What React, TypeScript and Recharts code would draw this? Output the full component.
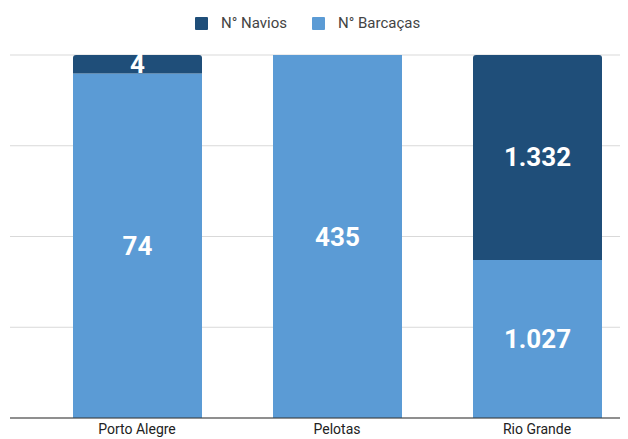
import React from 'react';
import { BarChart, Bar, XAxis, YAxis, CartesianGrid, Legend, LabelList } from 'recharts';

const categories = ['Porto Alegre', 'Pelotas', 'Rio Grande'];
const navios = [4, 0, 1332];
const barcacas = [74, 435, 1027];
const seriesNames = ['N° Navios', 'N° Barcaças'];
const seriesColors = ['#1f4e79', '#5b9bd5'];

const data = categories.map((c, i) => ({ name: c, navios: navios[i], barcacas: barcacas[i] }));

const fmt = (v: number) => (v ? v.toLocaleString('de-DE') : '');

const renderLabel = (props: any) => {
  const { x, y, width, height, value } = props;
  if (!value) return null;
  return (
    <text
      x={x + width / 2}
      y={y + height / 2}
      fill="#fff"
      textAnchor="middle"
      dominantBaseline="central"
      fontFamily="Roboto, sans-serif"
      fontWeight="bold"
      fontSize={26}
    >
      {fmt(value)}
    </text>
  );
};

const renderTick = (props: any) => {
  const { x, y, payload } = props;
  return (
    <text x={x} y={y + 10} textAnchor="middle" fill="#222" fontSize={14} fontFamily="Roboto, sans-serif">
      {payload.value}
    </text>
  );
};

const renderLegend = () => (
  <div style={{ display: 'flex', alignItems: 'center', fontFamily: 'Roboto, sans-serif' }}>
    {seriesNames.map((n, i) => (
      <div key={n} style={{ display: 'flex', alignItems: 'center', marginRight: i === 0 ? 25 : 0 }}>
        <div style={{ width: 13, height: 13, background: seriesColors[i], borderRadius: 1, marginRight: 13 }} />
        <span style={{ color: '#444', fontSize: 15, lineHeight: '16px' }}>{n}</span>
      </div>
    ))}
  </div>
);

export default function App() {
  return (
    <div style={{ width: 620, height: 431, overflow: 'hidden', fontFamily: 'Roboto, sans-serif' }}>
      <BarChart
        width={660}
        height={431}
        data={data}
        stackOffset="expand"
        margin={{ top: 31, right: 0, bottom: 0, left: 2 }}
      >
        <Legend
          verticalAlign="top"
          align="left"
          content={renderLegend}
          wrapperStyle={{ top: 7, left: 187, width: 'auto' }}
        />
        <CartesianGrid vertical={false} stroke="#d9d9d9" />
        <YAxis hide domain={[0, 1]} ticks={[0, 0.25, 0.5, 0.75, 1]} />
        <XAxis
          dataKey="name"
          height={21}
          padding={{ left: 27, right: 31 }}
          tickLine={false}
          axisLine={{ stroke: '#333' }}
          tick={renderTick}
          tickMargin={0}
        />
        <Bar dataKey="barcacas" name="N° Barcaças" stackId="a" fill="#5b9bd5" barSize={129} isAnimationActive={false}>
          <LabelList dataKey="barcacas" content={renderLabel} />
        </Bar>
        <Bar dataKey="navios" name="N° Navios" stackId="a" fill="#1f4e79" barSize={129} radius={[3, 3, 0, 0]} isAnimationActive={false}>
          <LabelList dataKey="navios" content={renderLabel} />
        </Bar>
      </BarChart>
    </div>
  );
}
